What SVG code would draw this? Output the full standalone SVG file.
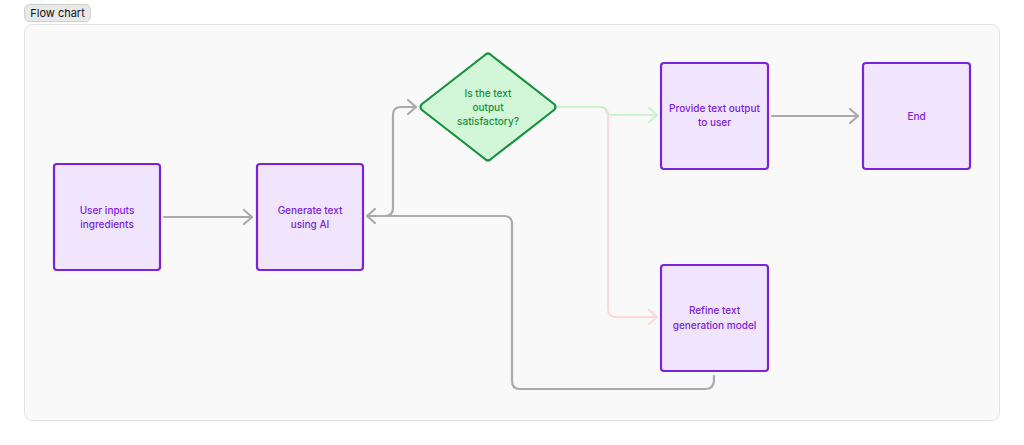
<svg xmlns="http://www.w3.org/2000/svg" width="1024" height="445" viewBox="0 0 1024 445">
<style>
.box{fill:#f1e5fe;stroke:#7b22dd;stroke-width:2.2}
.lbl{font-family:Inter,"Liberation Sans",sans-serif;font-size:10px;font-weight:500;fill:#7b22dd;text-anchor:middle}
.dl{font-family:Inter,"Liberation Sans",sans-serif;font-size:10px;font-weight:500;fill:#15913b;text-anchor:middle}
.c{fill:none;stroke-width:2.2;stroke-linecap:round;stroke-linejoin:round}
.g{stroke:#aaaaaa}
.p{stroke:#ffdad6}
.gr{stroke:#c8f3cc}
</style>
<defs>
<marker id="ag" markerUnits="userSpaceOnUse" markerWidth="12" markerHeight="18" viewBox="0 0 12 18" refX="10" refY="9" orient="auto"><path d="M2,2 L10,9 L2,16" fill="none" stroke="#aaaaaa" stroke-width="2.2" stroke-linecap="round" stroke-linejoin="round"/></marker>
<marker id="ap" markerUnits="userSpaceOnUse" markerWidth="12" markerHeight="18" viewBox="0 0 12 18" refX="10" refY="9" orient="auto"><path d="M2,2 L10,9 L2,16" fill="none" stroke="#ffdad6" stroke-width="2.2" stroke-linecap="round" stroke-linejoin="round"/></marker>
<marker id="agr" markerUnits="userSpaceOnUse" markerWidth="12" markerHeight="18" viewBox="0 0 12 18" refX="10" refY="9" orient="auto"><path d="M2,2 L10,9 L2,16" fill="none" stroke="#c8f3cc" stroke-width="2.2" stroke-linecap="round" stroke-linejoin="round"/></marker>
</defs>
<rect width="1024" height="445" fill="#ffffff"/>
<g id="title">
<rect x="24.5" y="4.5" width="66" height="17" rx="5" fill="#e8e8e8" stroke="#cfcfcf"/>
<text x="57.5" y="17" font-family="Inter,'Liberation Sans',sans-serif" font-size="11" fill="#111" text-anchor="middle">Flow chart</text>
</g>
<rect x="24.5" y="24.5" width="975" height="396" rx="8" fill="#f9f9f9" stroke="#e2e2e2"/>
<g id="connectors">
<path class="c g" d="M164,217 H252" marker-end="url(#ag)"/>
<path class="c g" d="M367,216 H385 Q393,216 393,208 V115 Q393,107 401,107 H416" marker-end="url(#ag)"/>
<path class="c g" d="M714,376 V380 Q714,389 705,389 H520 Q512,389 512,381 V224 Q512,216 504,216 H367" marker-end="url(#ag)"/>
<path class="c p" d="M557,107 H600 Q608,107 608,115 V309 Q608,317 616,317 H657" marker-end="url(#ap)"/>
<path class="c gr" d="M557,107 H600 Q605,107 606,111 Q607,115 612,115 H657" marker-end="url(#agr)"/>
<path class="c g" d="M772,116 H858" marker-end="url(#ag)"/>
</g>
<g id="n1"><rect class="box" x="54" y="164" width="106" height="106" rx="3"/><text class="lbl" x="107" y="214">User inputs</text><text class="lbl" x="107" y="228">ingredients</text></g>
<g id="n2"><rect class="box" x="257" y="164" width="106" height="106" rx="3"/><text class="lbl" x="310" y="214">Generate text</text><text class="lbl" x="310" y="228">using AI</text></g>
<g id="n3"><path d="M485,55 Q488,52 491,55 L554,104 Q557,107 554,110 L491,159 Q488,162 485,159 L422,110 Q419,107 422,104 Z" fill="#d2f6d8" stroke="#15913b" stroke-width="2.2" stroke-linejoin="round"/><text class="dl" x="488" y="97">Is the text</text><text class="dl" x="488" y="111">output</text><text class="dl" x="488" y="125">satisfactory?</text></g>
<g id="n4"><rect class="box" x="661" y="63" width="107" height="106" rx="3"/><text class="lbl" x="714.5" y="112">Provide text output</text><text class="lbl" x="714.5" y="126">to user</text></g>
<g id="n5"><rect class="box" x="863" y="63" width="107" height="106" rx="3"/><text class="lbl" x="916.5" y="119.5">End</text></g>
<g id="n6"><rect class="box" x="661" y="265" width="107" height="106" rx="3"/><text class="lbl" x="714.5" y="314">Refine text</text><text class="lbl" x="714.5" y="329">generation model</text></g>
</svg>
